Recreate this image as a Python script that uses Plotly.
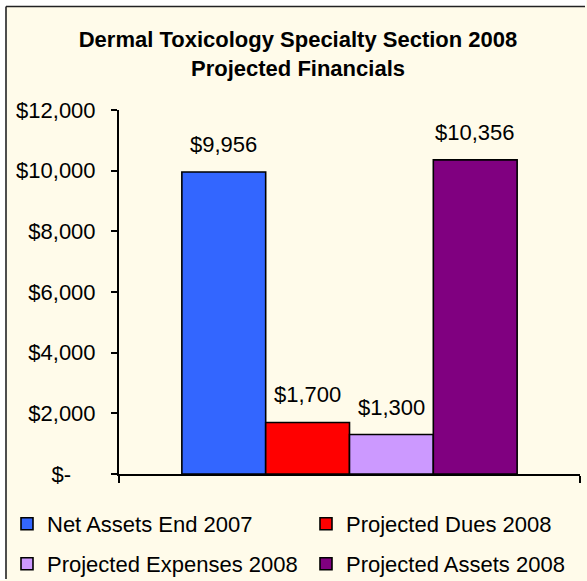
import plotly.graph_objects as go

# ---- data ----
series_names = ["Net Assets End 2007", "Projected Dues 2008",
                "Projected Expenses 2008", "Projected Assets 2008"]
values = [9956, 1700, 1300, 10356]
y_tick_values = [0, 2000, 4000, 6000, 8000, 10000, 12000]
y_tick_labels = ["$-\u00a0\u00a0\u00a0\u00a0", "$2,000", "$4,000", "$6,000",
                 "$8,000", "$10,000", "$12,000"]
title_text = "Dermal Toxicology Specialty Section 2008<br>Projected Financials"

# ---- style ----
colors = ["#3366FF", "#FF0000", "#CC99FF", "#800080"]
legend_ids = ["legend", "legend2", "legend3", "legend4"]
legend_pos = [(7, 524), (306, 524), (7, 564), (306, 564)]   # px (left, middle)
FONT = "Liberation Sans, Arial, sans-serif"
FS = 22
CREAM = "#FFFBEA"
W, H = 587, 581
L, R, T, B = 119, 7, 110, 107
PW, PH = W - L - R, H - T - B
side_gap = 0.75
x_range = [-0.5 - side_gap, len(values) - 0.5 + side_gap]


def px_x(px):
    return (px - L) / PW


def px_y(py):
    return (H - B - py) / PH


fig = go.Figure()
for i, (name, v, c, lg) in enumerate(zip(series_names, values, colors, legend_ids)):
    fig.add_trace(go.Bar(
        x=[i], y=[v], name=name, width=1, legend=lg,
        marker=dict(color=c, line=dict(color="black", width=1.6)),
        hoverinfo="skip"))
    fig.add_annotation(
        x=i, y=v, text=f"${v:,}", showarrow=False, yanchor="bottom", yshift=13,
        font=dict(family=FONT, size=FS, color="black"))

# white margin strips outside the chart frame (kept strictly inside the canvas)
BX, BY = 6, 6.5
fig.add_shape(type="rect", xref="paper", yref="paper", layer="below",
              x0=px_x(0), x1=px_x(BX), y0=px_y(H - 1), y1=px_y(0),
              fillcolor="white", line=dict(width=0))
fig.add_shape(type="rect", xref="paper", yref="paper", layer="below",
              x0=px_x(0), x1=px_x(W - 1), y0=px_y(BY), y1=px_y(0),
              fillcolor="white", line=dict(width=0))
# frame: left and top edges
fig.add_shape(type="line", xref="paper", yref="paper", layer="below",
              x0=px_x(BX), x1=px_x(BX), y0=px_y(H - 2), y1=px_y(BY),
              line=dict(color="#222222", width=1.6))
fig.add_shape(type="line", xref="paper", yref="paper", layer="below",
              x0=px_x(BX), x1=px_x(W - 2), y0=px_y(BY), y1=px_y(BY),
              line=dict(color="#222222", width=1.6))

legends = {}
for lg, (lx, ly) in zip(legend_ids, legend_pos):
    legends[lg] = dict(orientation="h", xref="container", yref="container",
                       x=lx / W, y=1 - ly / H, xanchor="left", yanchor="middle",
                       font=dict(family=FONT, size=FS, color="black"),
                       bgcolor="rgba(0,0,0,0)")

fig.update_layout(
    width=W, height=H,
    margin=dict(l=L, r=R, t=T, b=B, pad=0),
    paper_bgcolor=CREAM, plot_bgcolor="rgba(0,0,0,0)",
    barmode="overlay", showlegend=True,
    font=dict(family=FONT, size=FS, color="black"),
    title=dict(text=title_text, xref="container", yref="container",
               x=298 / W, xanchor="center", y=1 - 47 / H, yanchor="top",
               font=dict(family=FONT, size=FS, color="black", weight="bold")),
    xaxis=dict(range=x_range, tickvals=x_range, ticktext=["", ""],
               ticks="outside", ticklen=7, tickwidth=2, tickcolor="black",
               showline=True, linewidth=2, linecolor="black",
               showgrid=False, zeroline=False, fixedrange=True),
    yaxis=dict(range=[0, 12000], tickvals=y_tick_values, ticktext=y_tick_labels,
               ticks="outside", ticklen=6, tickwidth=2, tickcolor="black",
               ticklabelstandoff=11,
               showline=True, linewidth=2, linecolor="black",
               showgrid=False, zeroline=False, fixedrange=True,
               tickfont=dict(family=FONT, size=FS, color="black")),
    **legends,
)

fig.write_html(
    "out.html", config={"displayModeBar": False},
    post_script=("document.documentElement.style.overflow='hidden';"
                 "document.body.style.margin='0';"
                 "document.body.style.overflow='hidden';"))
